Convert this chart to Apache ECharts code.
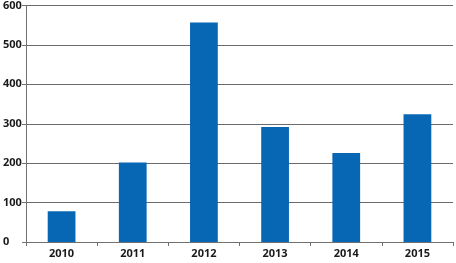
<!DOCTYPE html>
<html><head><meta charset="utf-8">
<script src="https://cdn.jsdelivr.net/npm/echarts@6/dist/echarts.min.js"></script>
<style>html,body{margin:0;padding:0;background:#fff}#c{width:456px;height:263px}</style>
</head><body><div id="c"></div>
<script>
const categories = ['2010','2011','2012','2013','2014','2015'];
const values = [78, 202, 557, 292, 226, 324];
const yTicks = [0, 100, 200, 300, 400, 500, 600];

const chart = echarts.init(document.getElementById('c'), null, {renderer:'canvas'});
chart.setOption({
  animation: false,
  backgroundColor: '#fff',
  grid: {left: 25, right: 3, top: 5, bottom: 21, containLabel: false},
  xAxis: {
    type: 'category', data: categories,
    axisLine: {show: true, lineStyle: {color: '#707070', width: 1}},
    axisTick: {show: true, length: 4, lineStyle: {color: '#707070'}},
    axisLabel: {color: '#1a1a1a', fontFamily: 'Open Sans', fontWeight: 'bold', fontSize: 11, margin: 6}
  },
  yAxis: {
    type: 'value', min: yTicks[0], max: yTicks[yTicks.length-1], interval: 100,
    axisLine: {show: true, lineStyle: {color: '#707070', width: 1}},
    axisTick: {show: true, length: 4, lineStyle: {color: '#707070'}},
    splitLine: {show: true, lineStyle: {color: '#6a6a6a', width: 1}},
    axisLabel: {color: '#1a1a1a', fontFamily: 'Open Sans', fontWeight: 'bold', fontSize: 11, align: 'left', margin: 23}
  },
  series: [{
    type: 'bar', data: values, barWidth: '39%',
    itemStyle: {color: '#0767b5'}
  }]
});
</script></body></html>
